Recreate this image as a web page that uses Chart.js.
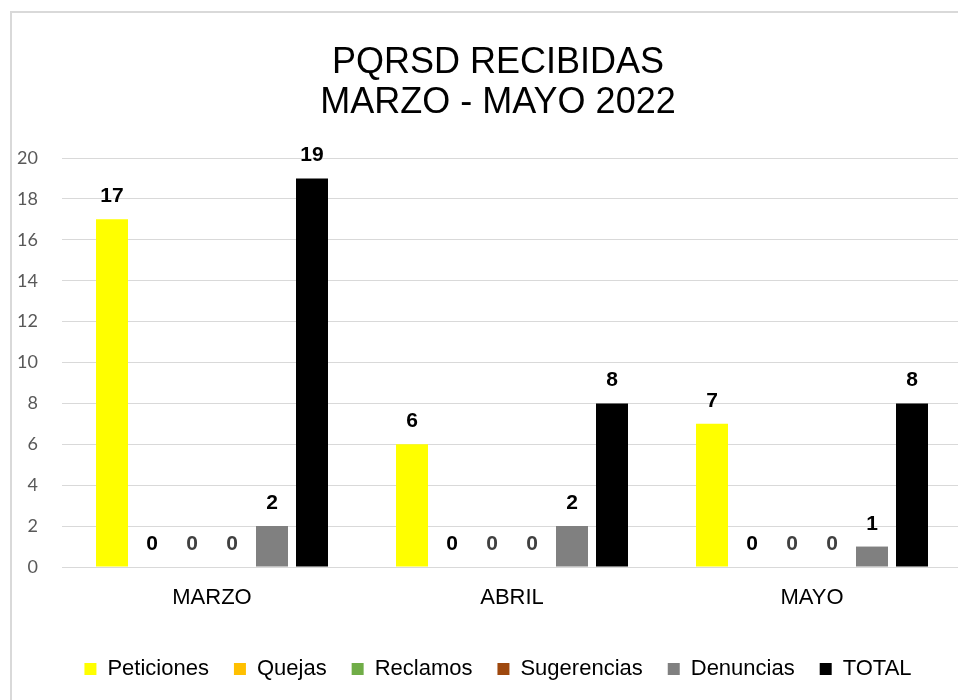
<!DOCTYPE html>
<html>
<head>
<meta charset="utf-8">
<script src="https://cdn.jsdelivr.net/npm/chart.js@4/dist/chart.umd.min.js"></script>
<style>
  html, body { margin: 0; padding: 0; background: #fff; overflow: hidden; }
  .frame {
    position: absolute; left: 10px; top: 11px;
    width: 972px; height: 700px;
    border: 2px solid #d9d9d9;
  }
  .frame canvas { display: block; }
</style>
</head>
<body>
<div class="frame">
  <canvas id="myChart" width="972" height="687" style="width:972px;height:687px"></canvas>
</div>
<script>
const categories = ['MARZO', 'ABRIL', 'MAYO'];
const seriesNames = ['Peticiones', 'Quejas', 'Reclamos', 'Sugerencias', 'Denuncias', 'TOTAL'];
const peticiones = [17, 6, 7];
const quejas = [0, 0, 0];
const reclamos = [0, 0, 0];
const sugerencias = [0, 0, 0];
const denuncias = [2, 2, 1];
const total = [19, 8, 8];
const yTickMin = 0, yTickMax = 20, yTickStep = 2;

const barColors = ['#FFFF00', '#FFC000', '#70AD47', '#9E480E', '#808080', '#000000'];
const labelColors = ['#000000', '#000000', '#404040', '#404040', '#000000', '#000000'];
const seriesValues = [peticiones, quejas, reclamos, sugerencias, denuncias, total];

const ARIAL = '"Liberation Sans", Arial, sans-serif';

// value labels above each bar (no datalabels plugin available offline)
const valueLabels = {
  id: 'valueLabels',
  afterDatasetsDraw(chart) {
    const ctx = chart.ctx;
    ctx.save();
    ctx.font = 'bold 21px ' + ARIAL;
    ctx.textAlign = 'center';
    ctx.textBaseline = 'alphabetic';
    chart.data.datasets.forEach((ds, i) => {
      const meta = chart.getDatasetMeta(i);
      ctx.fillStyle = labelColors[i];
      meta.data.forEach((bar, j) => {
        ctx.fillText(String(ds.data[j]), bar.x, bar.y - 17);
      });
    });
    ctx.restore();
  }
};

// title and legend are centred on the whole frame, not on the padded box
const widenBoxes = {
  id: 'widenBoxes',
  afterLayout(chart) {
    [chart.titleBlock, chart.legend].forEach(b => {
      if (!b) return;
      b.right = chart.width;
      b.width = b.right - b.left;
    });
  }
};

const ctx = document.getElementById('myChart').getContext('2d');
const myChart = new Chart(ctx, {
  type: 'bar',
  data: {
    labels: categories,
    datasets: seriesNames.map((name, i) => ({
      label: name,
      data: seriesValues[i],
      backgroundColor: barColors[i],
      borderWidth: 0,
      categoryPercentage: 0.8,
      barPercentage: 0.8
    }))
  },
  options: {
    responsive: false,
    animation: false,
    layout: { padding: { left: 0, right: 22, top: 0, bottom: 10 } },
    plugins: {
      title: {
        display: true,
        text: ['PQRSD RECIBIDAS', 'MARZO - MAYO 2022'],
        color: '#000',
        font: { family: ARIAL, size: 36, weight: 'normal', lineHeight: 40 / 36 },
        padding: { top: 30, bottom: 35 }
      },
      legend: {
        position: 'bottom',
        labels: {
          color: '#000',
          font: { family: ARIAL, size: 22 },
          boxWidth: 12,
          boxHeight: 12,
          padding: 25
        }
      },
      tooltip: { enabled: false }
    },
    scales: {
      x: {
        grid: { display: false, drawTicks: false },
        border: { display: false },
        ticks: { color: '#000', font: { family: ARIAL, size: 22 }, padding: 18 },
        afterFit: s => { s.height = 66; }
      },
      y: {
        min: yTickMin,
        max: yTickMax,
        ticks: { stepSize: yTickStep, color: '#595959', font: { family: 'Lato', size: 18 }, padding: 24 },
        grid: { color: '#d9d9d9', lineWidth: 1, drawTicks: false },
        border: { display: false },
        afterFit: s => { s.width = 50; }
      }
    }
  },
  plugins: [valueLabels, widenBoxes]
});
</script>
</body>
</html>
